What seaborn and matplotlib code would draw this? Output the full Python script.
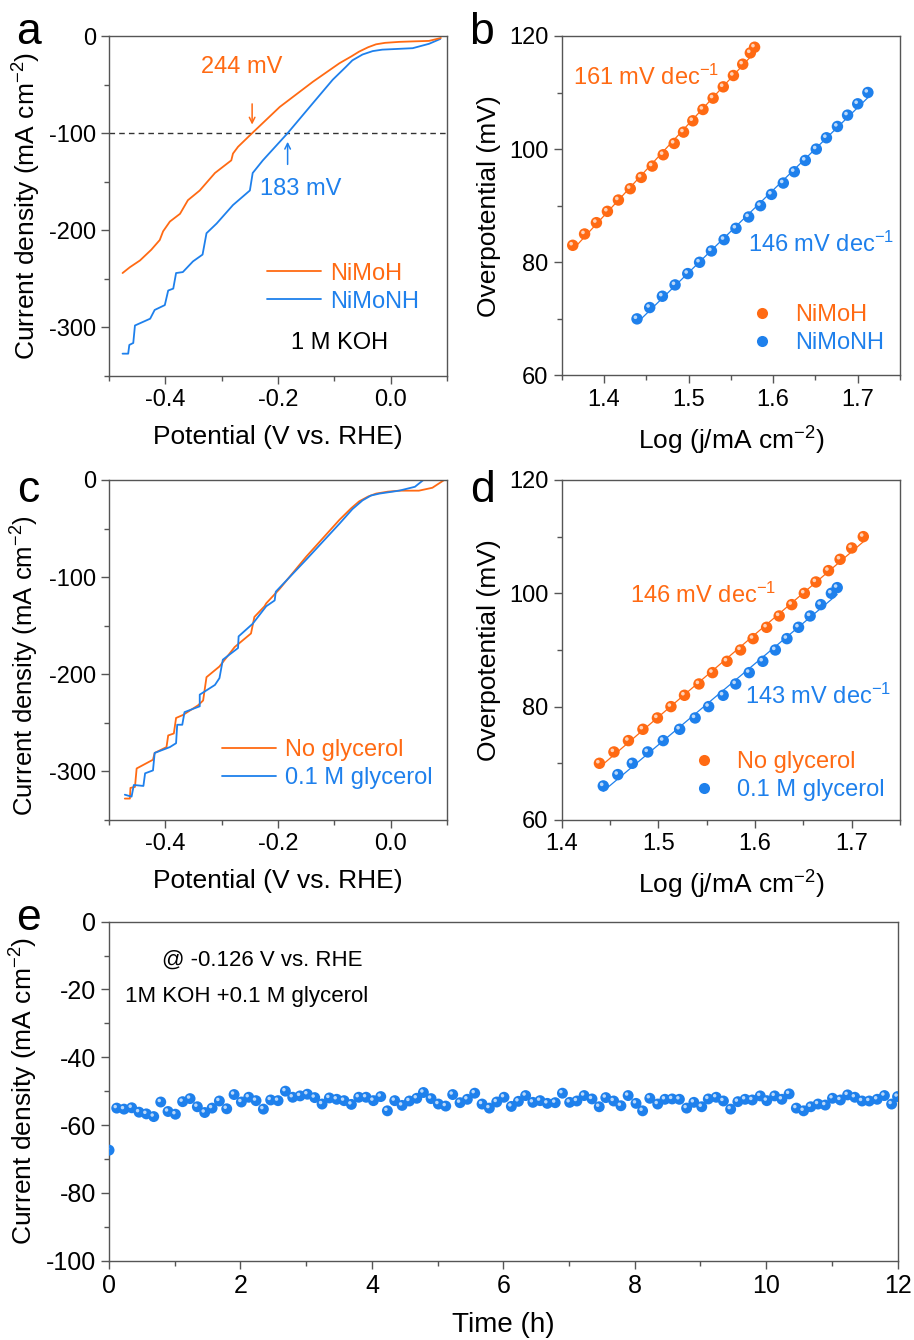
import numpy as np
import matplotlib
matplotlib.use("Agg")
import matplotlib.pyplot as plt
import matplotlib.transforms as mtransforms
from matplotlib.lines import Line2D
from matplotlib.ticker import MultipleLocator
import seaborn as sns

# ---- panel a: LSV, 1 M KOH ----
a_pot_nimoh = [-0.476, -0.463, -0.445, -0.425, -0.410, -0.404, -0.392, -0.374, -0.360, -0.339, -0.312,
               -0.283, -0.280, -0.271, -0.246, -0.197, -0.138, -0.091, -0.070, -0.056, -0.040, -0.026,
               -0.010, 0.015, 0.040, 0.068, 0.089]
a_j_nimoh = [-244, -238, -231, -220, -210, -201, -191, -183, -169, -159, -141,
             -128, -121, -114, -100, -73, -47, -28, -21, -16, -11.5, -8.5,
             -7, -6, -5.5, -5, -2]
a_pot_nimonh = [-0.476, -0.466, -0.464, -0.457, -0.454, -0.427, -0.419, -0.401, -0.395, -0.386, -0.381,
                -0.369, -0.351, -0.334, -0.327, -0.309, -0.280, -0.250, -0.245, -0.227, -0.183, -0.138,
                -0.103, -0.080, -0.068, -0.050, -0.032, -0.015, 0.003, 0.039, 0.068, 0.088]
a_j_nimonh = [-327, -327, -318, -316, -298, -291, -282, -277, -262, -260, -244,
              -243, -232, -225, -203, -193, -174, -159, -141, -128, -100, -69,
              -45, -32, -25, -19, -15.5, -14, -13.5, -12.5, -8, -3]

# ---- panel b: Tafel ----
b_logj_nimoh = [1.363, 1.377, 1.391, 1.404, 1.417, 1.431, 1.444, 1.457, 1.470, 1.483, 1.494,
                1.505, 1.517, 1.529, 1.541, 1.553, 1.564, 1.573, 1.578]
b_eta_nimoh = [83, 85, 87, 89, 91, 93, 95, 97, 99, 101, 103, 105, 107, 109, 111, 113, 115, 117, 118]
b_logj_nimonh = [1.439, 1.454, 1.469, 1.484, 1.499, 1.513, 1.527, 1.542, 1.556, 1.571, 1.585,
                 1.598, 1.612, 1.625, 1.638, 1.651, 1.663, 1.676, 1.688, 1.700, 1.712]
b_eta_nimonh = [70, 72, 74, 76, 78, 80, 82, 84, 86, 88, 90, 92, 94, 96, 98, 100, 102, 104, 106, 108, 110]

# ---- panel c: LSV with / without glycerol ----
c_pot_no = [-0.472, -0.463, -0.462, -0.454, -0.451, -0.422, -0.419, -0.398, -0.395, -0.385, -0.381,
            -0.369, -0.342, -0.333, -0.327, -0.304, -0.277, -0.248, -0.242, -0.224, -0.221, -0.197,
            -0.150, -0.091, -0.070, -0.056, -0.040, -0.026, -0.005, 0.015, 0.050, 0.074, 0.095]
c_j_no = [-328, -328, -317, -316, -297, -288, -281, -275, -263, -261, -245,
          -242, -232, -227, -203, -192, -172, -158, -141, -130, -127, -112,
          -79, -41, -29, -22, -17, -14, -12, -11, -11, -8, 0]
c_pot_gly = [-0.472, -0.460, -0.456, -0.439, -0.436, -0.422, -0.419, -0.392, -0.381, -0.379, -0.370,
             -0.366, -0.339, -0.339, -0.312, -0.304, -0.298, -0.271, -0.270, -0.245, -0.221, -0.206,
             -0.204, -0.150, -0.091, -0.068, -0.050, -0.035, -0.020, 0.015, 0.043, 0.058]
c_j_gly = [-324, -326, -314, -315, -302, -299, -281, -275, -271, -252, -252,
           -239, -233, -221, -211, -204, -185, -173, -161, -148, -130, -124,
           -115, -82, -45, -30, -21, -16, -14, -11, -7, 0]

# ---- panel d: Tafel with / without glycerol ----
d_logj_no = [1.439, 1.454, 1.469, 1.484, 1.499, 1.513, 1.527, 1.542, 1.556, 1.571, 1.585,
             1.598, 1.612, 1.625, 1.638, 1.651, 1.663, 1.676, 1.688, 1.700, 1.712]
d_eta_no = [70, 72, 74, 76, 78, 80, 82, 84, 86, 88, 90, 92, 94, 96, 98, 100, 102, 104, 106, 108, 110]
d_logj_gly = [1.443, 1.458, 1.473, 1.489, 1.505, 1.522, 1.538, 1.552, 1.567, 1.580, 1.594,
              1.608, 1.621, 1.633, 1.645, 1.657, 1.668, 1.679, 1.685]
d_eta_gly = [66, 68, 70, 72, 74, 76, 78, 80, 82, 84, 86, 88, 90, 92, 94, 96, 98, 100, 101]

# ---- panel e: chronoamperometry ----
e_time = [0.0, 0.117, 0.228, 0.345, 0.457, 0.568, 0.680, 0.787, 0.898, 1.010, 1.120, 1.233, 1.344,
          1.456, 1.568, 1.679, 1.791, 1.903, 2.014, 2.126, 2.237, 2.349, 2.460, 2.572, 2.684, 2.795,
          2.907, 3.018, 3.130, 3.242, 3.353, 3.465, 3.577, 3.688, 3.800, 3.912, 4.023, 4.135, 4.236,
          4.348, 4.460, 4.571, 4.683, 4.784, 4.901, 5.012, 5.124, 5.230, 5.342, 5.453, 5.565, 5.677,
          5.788, 5.900, 6.011, 6.123, 6.230, 6.340, 6.450, 6.560, 6.670, 6.790, 6.900, 7.010, 7.120,
          7.230, 7.350, 7.460, 7.560, 7.680, 7.790, 7.900, 8.020, 8.120, 8.230, 8.350, 8.460, 8.570,
          8.680, 8.790, 8.900, 9.020, 9.120, 9.240, 9.350, 9.460, 9.570, 9.680, 9.790, 9.910, 10.01,
          10.13, 10.24, 10.35, 10.46, 10.57, 10.68, 10.79, 10.90, 11.01, 11.13, 11.24, 11.35, 11.46,
          11.57, 11.69, 11.80, 11.91, 12.0]
e_j = [-67.4, -55.0, -55.3, -54.9, -56.2, -56.7, -57.5, -53.2, -56.0, -56.8, -53.1, -52.2, -54.6,
       -56.3, -55.0, -52.9, -55.2, -51.0, -53.2, -51.8, -52.8, -55.3, -52.6, -52.8, -50.0, -51.8,
       -51.4, -50.9, -51.9, -53.8, -52.0, -52.4, -52.8, -53.9, -51.8, -51.8, -52.8, -51.6, -55.8,
       -52.8, -54.2, -52.9, -52.1, -50.4, -52.2, -53.8, -54.4, -51.0, -53.4, -52.4, -50.6, -53.8,
       -55.0, -53.2, -51.8, -54.5, -53.0, -51.3, -53.3, -52.8, -53.6, -53.4, -50.6, -53.3, -52.9,
       -51.3, -52.3, -54.6, -51.9, -52.9, -54.3, -51.3, -53.6, -55.8, -52.1, -53.8, -52.4, -52.3,
       -52.4, -55.0, -53.3, -54.6, -52.3, -51.8, -52.9, -55.3, -53.1, -52.4, -52.6, -51.4, -52.8,
       -51.4, -52.4, -50.8, -55.0, -55.8, -54.6, -53.8, -54.1, -52.1, -52.6, -51.1, -51.8, -52.9,
       -52.9, -52.4, -51.3, -53.8, -51.6]

ORANGE = "#FF6A13"
BLUE = "#1E80EC"
SPINE = "#555555"

sns.set_theme(style="ticks")
plt.rcParams["font.family"] = ["Liberation Sans", "DejaVu Sans"]
plt.rcParams["mathtext.fontset"] = "custom"
plt.rcParams["mathtext.rm"] = "Liberation Sans"
plt.rcParams["mathtext.it"] = "Liberation Sans:italic"
plt.rcParams["axes.unicode_minus"] = False
plt.rcParams["font.size"] = 17
plt.rcParams["text.color"] = "black"
plt.rcParams["axes.labelcolor"] = "black"
plt.rcParams["axes.edgecolor"] = SPINE
plt.rcParams["axes.linewidth"] = 1.0
plt.rcParams["xtick.color"] = SPINE
plt.rcParams["ytick.color"] = SPINE
plt.rcParams["xtick.labelcolor"] = "black"
plt.rcParams["ytick.labelcolor"] = "black"

fig = plt.figure(figsize=(9.14, 13.4), dpi=100)
ax_a = fig.add_axes([0.1193, 0.7194, 0.3698, 0.2537])
ax_b = fig.add_axes([0.6146, 0.7198, 0.3701, 0.2534])
ax_c = fig.add_axes([0.1193, 0.3881, 0.3698, 0.2537])
ax_d = fig.add_axes([0.6146, 0.3881, 0.3701, 0.2537])
ax_e = fig.add_axes([0.1193, 0.0592, 0.8627, 0.2530])

FS = 17     # ticks, legends, annotations
LFS = 19    # axis titles
J_LABEL = "Current density (mA cm$^{-2}$)"


def style(ax):
    for s in ax.spines.values():
        s.set_visible(True)
        s.set_color(SPINE)
    ax.tick_params(which="major", direction="out", length=6, width=1, labelsize=FS,
                   top=False, right=False)
    ax.tick_params(which="minor", direction="out", length=3.5, width=1, top=False, right=False)


def balls(ax, x, y, color, s=68):
    sns.scatterplot(x=x, y=y, ax=ax, color=color, s=s, edgecolor="none", zorder=3, legend=False)
    off = np.sqrt(s) * 0.14
    hl = mtransforms.offset_copy(ax.transData, fig=fig, x=-off, y=off, units="points")
    ax.scatter(x, y, s=s * 0.1, color="white", alpha=0.7, edgecolor="none",
               transform=hl, zorder=4)


def lsv_axes(ax):
    ax.set_xlim(-0.5, 0.1)
    ax.set_ylim(-350, 0)
    ax.xaxis.set_minor_locator(MultipleLocator(0.1))
    ax.yaxis.set_major_locator(MultipleLocator(100))
    ax.yaxis.set_minor_locator(MultipleLocator(50))
    ax.set_xticks([-0.4, -0.2, 0.0])
    ax.set_xticklabels(["-0.4", "-0.2", "0.0"])
    ax.set_xlabel("Potential (V vs. RHE)", fontsize=LFS, labelpad=10)
    ax.set_ylabel(J_LABEL, fontsize=LFS, labelpad=4)
    style(ax)


def tafel_axes(ax, xlo):
    ax.set_xlim(xlo, 1.75)
    ax.set_ylim(60, 120)
    ax.xaxis.set_major_locator(MultipleLocator(0.1))
    ax.xaxis.set_minor_locator(MultipleLocator(0.05))
    ax.yaxis.set_major_locator(MultipleLocator(20))
    ax.yaxis.set_minor_locator(MultipleLocator(10))
    ax.set_xlabel("Log (j/mA cm$^{-2}$)", fontsize=LFS, labelpad=10)
    ax.set_ylabel("Overpotential (mV)", fontsize=LFS, labelpad=6)
    style(ax)


# ---- a ----
ax = ax_a
ax.axhline(-100, color="#333333", lw=1, ls=(0, (4, 3)), zorder=1)
sns.lineplot(x=a_pot_nimonh, y=a_j_nimonh, ax=ax, color=BLUE, lw=1.3, sort=False,
             estimator=None, label="NiMoNH", zorder=2)
sns.lineplot(x=a_pot_nimoh, y=a_j_nimoh, ax=ax, color=ORANGE, lw=1.3, sort=False,
             estimator=None, label="NiMoH", zorder=2)
ax.annotate("", xy=(-0.246, -94), xytext=(-0.246, -67),
            arrowprops=dict(arrowstyle="->", color=ORANGE, lw=1.1, mutation_scale=10))
ax.annotate("", xy=(-0.183, -106), xytext=(-0.183, -135),
            arrowprops=dict(arrowstyle="->", color=BLUE, lw=1.1, mutation_scale=10))
ax.text(-0.265, -32, "244 mV", color=ORANGE, fontsize=FS, ha="center", va="center")
ax.text(-0.159, -157, "183 mV", color=BLUE, fontsize=FS, ha="center", va="center")
ax.text(-0.09, -316, "1 M KOH", color="black", fontsize=FS, ha="center", va="center")
lsv_axes(ax)
h, l = ax.get_legend_handles_labels()
ax.legend(h[::-1], l[::-1], loc="center left", bbox_to_anchor=(0.466, 0.26), frameon=False,
          fontsize=FS, labelcolor="linecolor", handlelength=2.3, handletextpad=0.4,
          borderpad=0, borderaxespad=0, labelspacing=0.25)

# ---- b ----
ax = ax_b
sns.regplot(x=b_logj_nimoh, y=b_eta_nimoh, ax=ax, scatter=False, ci=None, truncate=True,
            line_kws=dict(color=ORANGE, lw=0.9))
sns.regplot(x=b_logj_nimonh, y=b_eta_nimonh, ax=ax, scatter=False, ci=None, truncate=True,
            line_kws=dict(color=BLUE, lw=0.9))
balls(ax, b_logj_nimoh, b_eta_nimoh, ORANGE)
balls(ax, b_logj_nimonh, b_eta_nimonh, BLUE)
ax.text(1.363, 112.7, "161 mV dec$^{-1}$", color=ORANGE, fontsize=FS, ha="left", va="center")
ax.text(1.570, 83.1, "146 mV dec$^{-1}$", color=BLUE, fontsize=FS, ha="left", va="center")
tafel_axes(ax, 1.35)
hb = [Line2D([], [], ls="none", marker="o", ms=8, color=c, mec="none") for c in (ORANGE, BLUE)]
ax.legend(hb, ["NiMoH", "NiMoNH"], loc="center left", bbox_to_anchor=(0.565, 0.136),
          frameon=False, fontsize=FS, labelcolor=[ORANGE, BLUE], handlelength=0.8,
          handletextpad=1.0, borderpad=0, borderaxespad=0, labelspacing=0.25)

# ---- c ----
ax = ax_c
sns.lineplot(x=c_pot_no, y=c_j_no, ax=ax, color=ORANGE, lw=1.3, sort=False,
             estimator=None, label="No glycerol", zorder=2)
sns.lineplot(x=c_pot_gly, y=c_j_gly, ax=ax, color=BLUE, lw=1.3, sort=False,
             estimator=None, label="0.1 M glycerol", zorder=2)
lsv_axes(ax)
ax.set_ylabel(J_LABEL, fontsize=LFS - 0.5)
ax.yaxis.set_label_coords(-0.2, 0.455)
ax.legend(loc="center left", bbox_to_anchor=(0.333, 0.164), frameon=False, fontsize=FS,
          labelcolor="linecolor", handlelength=2.3, handletextpad=0.4, borderpad=0,
          borderaxespad=0, labelspacing=0.25)

# ---- d ----
ax = ax_d
sns.regplot(x=d_logj_no, y=d_eta_no, ax=ax, scatter=False, ci=None, truncate=True,
            line_kws=dict(color=ORANGE, lw=0.9))
sns.regplot(x=d_logj_gly, y=d_eta_gly, ax=ax, scatter=False, ci=None, truncate=True,
            line_kws=dict(color=BLUE, lw=0.9))
balls(ax, d_logj_no, d_eta_no, ORANGE)
balls(ax, d_logj_gly, d_eta_gly, BLUE)
ax.text(1.471, 99.7, "146 mV dec$^{-1}$", color=ORANGE, fontsize=FS, ha="left", va="center")
ax.text(1.590, 81.8, "143 mV dec$^{-1}$", color=BLUE, fontsize=FS, ha="left", va="center")
tafel_axes(ax, 1.4)
ax.legend(hb, ["No glycerol", "0.1 M glycerol"], loc="center left", bbox_to_anchor=(0.393, 0.129),
          frameon=False, fontsize=FS, labelcolor=[ORANGE, BLUE], handlelength=0.8,
          handletextpad=1.0, borderpad=0, borderaxespad=0, labelspacing=0.25)

# ---- e ----
ax = ax_e
balls(ax, e_time, e_j, BLUE, s=62)
ax.set_xlim(0, 12)
ax.set_ylim(-100, 0)
ax.xaxis.set_major_locator(MultipleLocator(2))
ax.xaxis.set_minor_locator(MultipleLocator(1))
ax.yaxis.set_major_locator(MultipleLocator(20))
ax.yaxis.set_minor_locator(MultipleLocator(10))
style(ax)
ax.set_xlabel("Time (h)", fontsize=LFS + 1, labelpad=10)
ax.set_ylabel(J_LABEL, fontsize=LFS, labelpad=4)
ax.tick_params(labelsize=FS + 1)
ax.text(0.8, -11.3, "@ -0.126 V vs. RHE", fontsize=FS - 1, ha="left", va="center")
ax.text(0.24, -22.1, "1M KOH +0.1 M glycerol", fontsize=FS - 1, ha="left", va="center")

# panel letters
for lbl, (px, py) in zip("abcde", [(28, 33), (482, 33), (28, 490), (482, 490), (28, 918)]):
    fig.text(px / 914, 1 - py / 1340, lbl, fontsize=32, ha="center", va="center")

fig.savefig("out.png", dpi=100)
